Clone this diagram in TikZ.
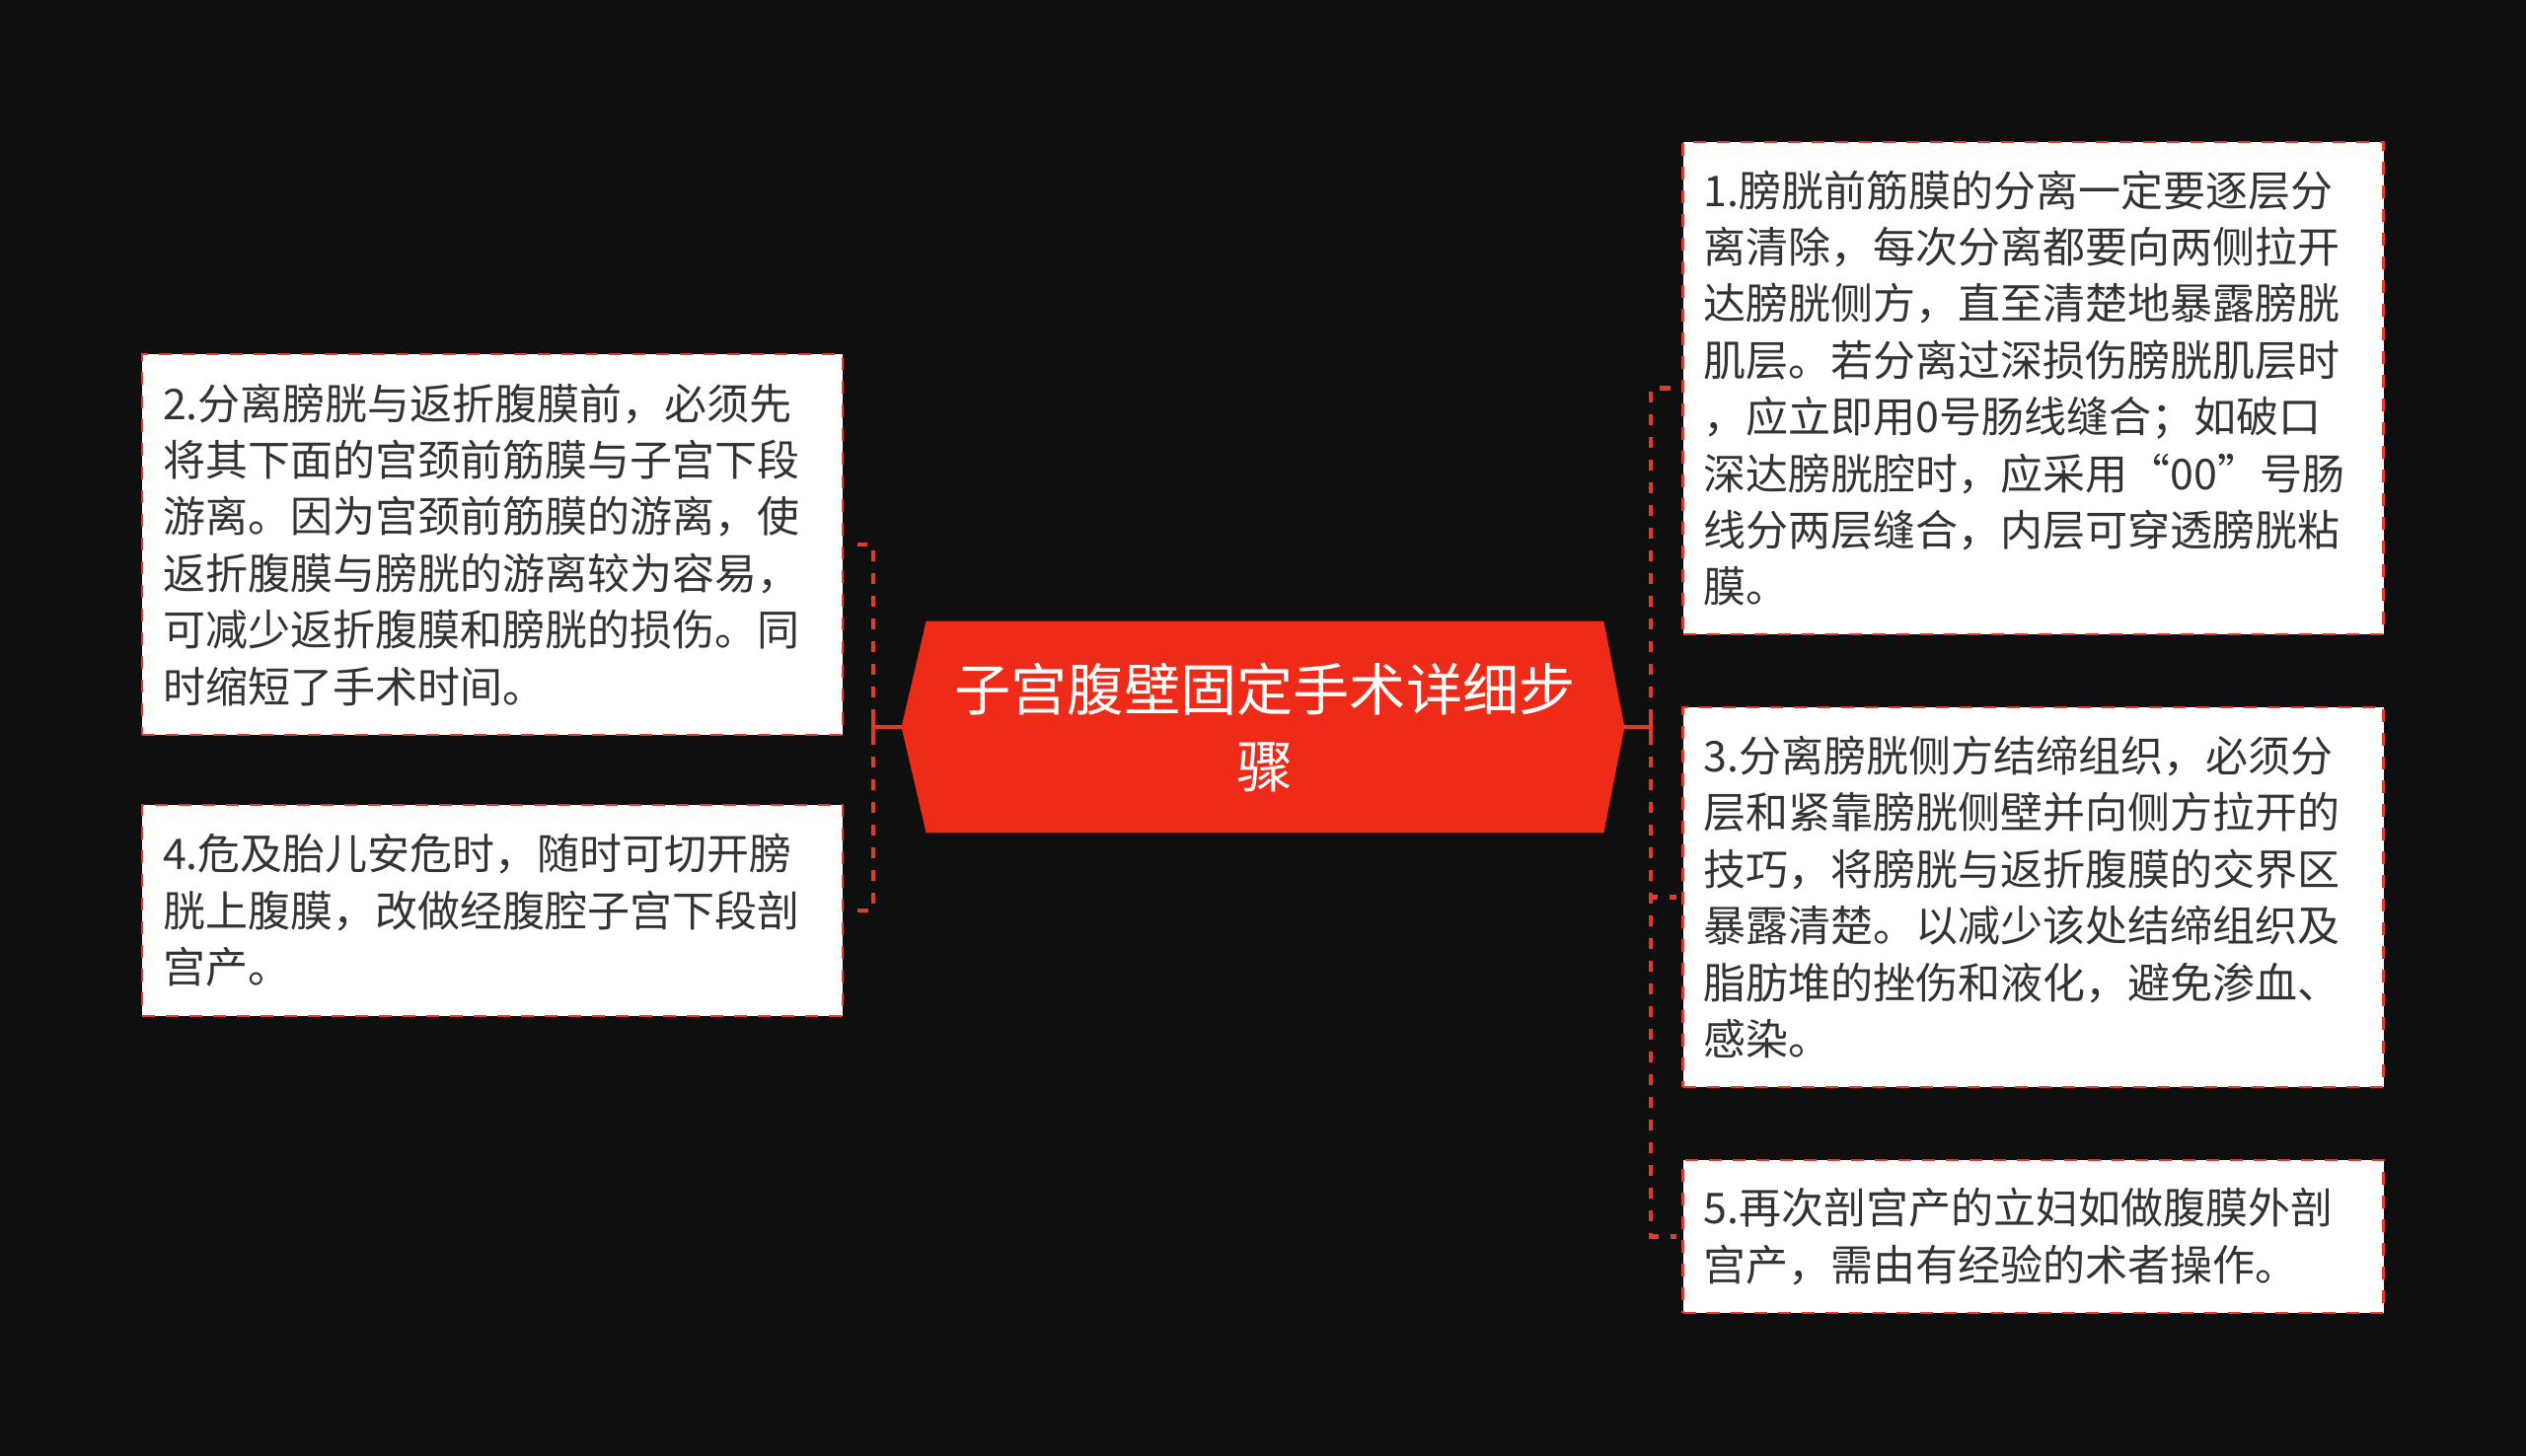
\documentclass[tikz,border=0pt]{standalone}
\usepackage{fontspec}
\setmainfont{Noto Sans CJK SC}
\usetikzlibrary{calc,backgrounds}
\definecolor{bgc}{HTML}{0F0F0F}
\definecolor{hexred}{HTML}{EE2A18}
\definecolor{dashred}{HTML}{E23B2D}
\definecolor{txt}{HTML}{333333}
\begin{document}
\begin{tikzpicture}[x=0.5pt,y=-0.5pt,
  leaf/.style={draw=dashred, line width=1.4pt, dash pattern=on 6.5pt off 5.5pt,
    fill=white, text=txt, font=\fontsize{21.5pt}{28.7pt}\selectfont,
    align=left, text width=334pt, inner xsep=10.5pt, inner ysep=0pt,
    minimum width=355pt},
  rootnode/.style={text=white, font=\fontsize{28.6pt}{39pt}\selectfont,
    align=center, minimum width=343pt, minimum height=107pt, inner sep=0pt},
  conn/.style={draw=dashred, line width=2.4pt, dash pattern=on 5.5pt off 6pt, dash phase=8pt},
  solidconn/.style={draw=dashred, line width=2.4pt}]
\useasboundingbox (0,0) rectangle (2560,1476);

\node[rootnode] (root) at (1282,737) {子宫腹壁固定手术详细步\\骤};

\node[leaf, minimum height=249.5pt] (b1) at (2060.5,393.5) {1.膀胱前筋膜的分离一定要逐层分\\离清除，每次分离都要向两侧拉开\\达膀胱侧方，直至清楚地暴露膀胱\\肌层。若分离过深损伤膀胱肌层时\\，应立即用0号肠线缝合；如破口\\深达膀胱腔时，应采用“00”号肠\\线分两层缝合，内层可穿透膀胱粘\\膜。};
\node[leaf, minimum height=193pt] (b2) at (499,552) {2.分离膀胱与返折腹膜前，必须先\\将其下面的宫颈前筋膜与子宫下段\\游离。因为宫颈前筋膜的游离，使\\返折腹膜与膀胱的游离较为容易，\\可减少返折腹膜和膀胱的损伤。同\\时缩短了手术时间。};
\node[leaf, minimum height=192.5pt] (b3) at (2060.5,909.5) {3.分离膀胱侧方结缔组织，必须分\\层和紧靠膀胱侧壁并向侧方拉开的\\技巧，将膀胱与返折腹膜的交界区\\暴露清楚。以减少该处结缔组织及\\脂肪堆的挫伤和液化，避免渗血、\\感染。};
\node[leaf, minimum height=107pt] (b4) at (499,923) {4.危及胎儿安危时，随时可切开膀\\胱上腹膜，改做经腹腔子宫下段剖\\宫产。};
\node[leaf, minimum height=77.5pt] (b5) at (2060.5,1253.5) {5.再次剖宫产的立妇如做腹膜外剖\\宫产，需由有经验的术者操作。};

\coordinate (rl) at ($(root.west)+(-25,0)$);
\coordinate (rr) at ($(root.east)+(21,0)$);

\begin{scope}[on background layer]
  \fill[bgc] (0,0) rectangle (2560,1476);
  \fill[hexred] (root.north west) -- (root.north east) -- (rr) -- (root.south east) -- (root.south west) -- (rl) -- cycle;
\end{scope}

\coordinate (jl) at (885,737);
\coordinate (jr) at (1673,737);
\coordinate (s2) at ($(b2.east)+(14,0)$);
\coordinate (s4) at ($(b4.east)+(14,0)$);
\coordinate (s1) at ($(b1.west)+(-5,0)$);
\coordinate (s3) at ($(b3.west)+(-5,0)$);
\coordinate (s5) at ($(b5.west)+(-5,0)$);

\draw[solidconn] (rl) -- (jl);
\draw[solidconn] (rr) -- (jr);
\draw[solidconn] ($(jl)+(0,-12)$) -- ($(jl)+(0,12)$);
\draw[solidconn] ($(jr)+(0,-12)$) -- ($(jr)+(0,12)$);
\draw[conn] (jl) |- (s2);
\draw[conn] (jl) |- (s4);
\draw[conn] (jr) |- (s1);
\draw[conn] (jr) |- (s3);
\draw[conn] (jr) |- (s5);
\end{tikzpicture}
\end{document}
